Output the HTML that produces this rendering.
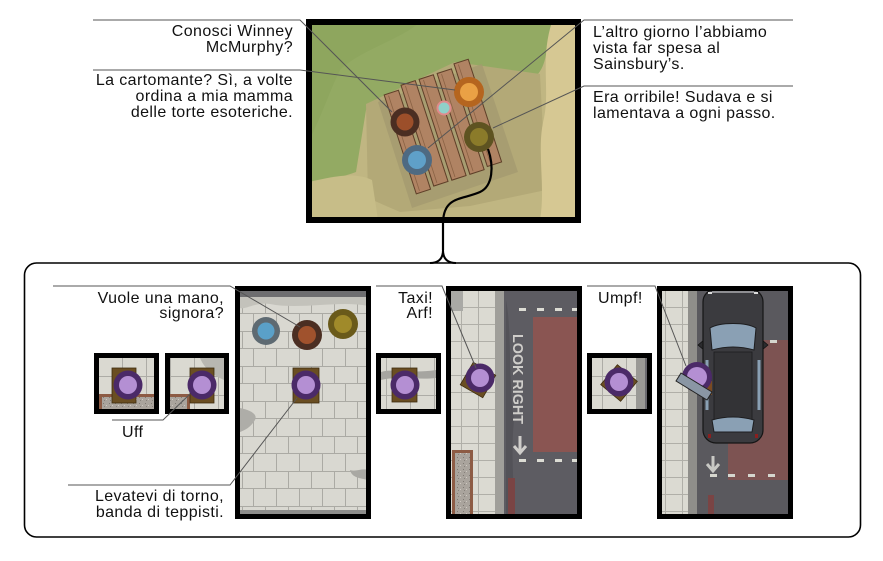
<!DOCTYPE html>
<html><head><meta charset="utf-8"><style>
html,body{margin:0;padding:0;background:#fff;}
svg{display:block;}
text{font-family:"Liberation Sans",sans-serif;font-size:16px;fill:#111;letter-spacing:0.4px;}
</style></head><body>
<svg width="883" height="561" viewBox="0 0 883 561" xmlns="http://www.w3.org/2000/svg">
<defs>
 <pattern id="brick" width="46" height="35" patternUnits="userSpaceOnUse" x="242" y="296">
  <rect width="46" height="35" fill="#d9d8d1"/>
  <path d="M0,0.5H46M0,17.5H46M0.5,0V17.5M23.5,0V17.5M11.5,17.5V35M34.5,17.5V35" stroke="#abaaa4" stroke-width="1" fill="none"/>
 </pattern>
 <pattern id="tile" width="17" height="17" patternUnits="userSpaceOnUse" x="444" y="290">
  <rect width="17" height="17" fill="#dbdad2"/>
  <path d="M0,0.5H17M0.5,0V17" stroke="#b0afa8" stroke-width="1" fill="none"/>
 </pattern>
 <pattern id="tile2" width="24" height="19" patternUnits="userSpaceOnUse" x="98" y="357">
  <rect width="24" height="19" fill="#dad9d1"/>
  <path d="M0,0.5H24M0.5,0V19" stroke="#adaca6" stroke-width="1" fill="none"/>
 </pattern>
 <pattern id="gravel" width="6" height="6" patternUnits="userSpaceOnUse">
  <rect width="6" height="6" fill="#aaa49d"/>
  <rect x="1" y="1" width="1" height="1" fill="#7e7872"/>
  <rect x="4" y="3" width="1" height="1" fill="#cfc9c2"/>
  <rect x="2" y="4" width="1" height="1" fill="#86807a"/>
 </pattern>
 <clipPath id="ct"><rect x="309" y="22" width="269" height="198"/></clipPath>
 <clipPath id="cA"><rect x="240" y="291" width="128" height="225"/></clipPath>
 <clipPath id="cB"><rect x="451" y="291" width="126" height="225"/></clipPath>
 <clipPath id="cC"><rect x="662" y="291" width="126" height="225"/></clipPath>
</defs>

<!-- ===== TOP IMAGE ===== -->
<g clip-path="url(#ct)">
 <rect x="309" y="22" width="269" height="198" fill="#c0b682"/>
 <path d="M309,22 H552 C546,45 548,62 538,74 L470,66 L400,92 L366,110 L356,172 C340,178 320,182 309,186 Z" fill="#93aa63"/>
 <path d="M309,22 H420 C400,40 360,50 340,70 C330,90 320,120 309,140 Z" fill="#8aa35c" opacity="0.6"/>
 <path d="M366,104 L455,62 L540,74 L546,190 L470,206 L400,212 L368,198 Z" fill="#b3a977"/>
 <path d="M378,102 L482,64 L518,172 L412,208 Z" fill="#a39a6f" opacity="0.75"/>
 <path d="M552,22 H578 V220 H540 C546,185 536,150 544,118 C550,90 540,58 552,22 Z" fill="#d6c893"/>
 <path d="M309,182 C335,176 355,172 372,180 L378,220 H309 Z" fill="#c7bd88"/>
 <g transform="rotate(-18 444 127)" stroke="#5e3f28" stroke-width="1" fill="#b08363">
  <rect x="397" y="78" width="15" height="104"/>
  <rect x="416" y="74" width="15" height="106"/>
  <rect x="435" y="74" width="15" height="106"/>
  <rect x="454" y="74" width="15" height="106"/>
  <rect x="473" y="70" width="15" height="108"/>
  <path d="M401,80V180M420,76V178M439,76V178M458,76V178M477,72V176" stroke="#8a6244" stroke-width="0.8"/>
 </g>
 <circle cx="405" cy="122" r="14.5" fill="#4b2e22"/><circle cx="405" cy="122" r="8.5" fill="#9c4f2a"/>
 <circle cx="444" cy="108" r="7.5" fill="#e08a8c"/><circle cx="444" cy="108" r="5.5" fill="#8fd0c8"/>
 <circle cx="469" cy="92" r="15" fill="#b5651f"/><circle cx="469" cy="92" r="9" fill="#eaa145"/>
 <circle cx="479" cy="137" r="15" fill="#5e5321"/><circle cx="479" cy="137" r="9" fill="#8b7b2a"/>
 <circle cx="417" cy="160" r="15" fill="#4e6a82"/><circle cx="417" cy="160" r="9" fill="#5fa0c8"/>
</g>
<rect x="309" y="22" width="269" height="198" fill="none" stroke="#000" stroke-width="6"/>

<!-- connector curve -->
<path d="M488,149 C494,166 493,186 480,192 C462,200 444,196 443,222 L443,250" fill="none" stroke="#000" stroke-width="2.2"/>
<path d="M430,263 Q443,263 443,250 Q443,263 456,263" fill="none" stroke="#000" stroke-width="2"/>

<!-- top label lines -->
<g stroke="#555" stroke-width="1" fill="none">
 <path d="M93,20 H300 L392,112"/>
 <path d="M93,70 H300 L455,90"/>
 <path d="M793,20 H584 L428,148"/>
 <path d="M793,86 H584 L493,128"/>
</g>
<text x="293" y="36" text-anchor="end">Conosci Winney</text>
<text x="293" y="52" text-anchor="end">McMurphy?</text>
<text x="293" y="85" text-anchor="end">La cartomante? Sì, a volte</text>
<text x="293" y="101" text-anchor="end">ordina a mia mamma</text>
<text x="293" y="117" text-anchor="end">delle torte esoteriche.</text>
<text x="593" y="37">L’altro giorno l’abbiamo</text>
<text x="593" y="53">vista far spesa al</text>
<text x="593" y="69">Sainsbury’s.</text>
<text x="593" y="102">Era orribile! Sudava e si</text>
<text x="593" y="118">lamentava a ogni passo.</text>

<!-- ===== BOTTOM PANEL ===== -->
<rect x="24.5" y="263" width="836" height="274" rx="12" ry="12" fill="none" stroke="#000" stroke-width="1.6"/>

<!-- small box 1 -->
<rect x="99" y="358" width="55" height="51" fill="url(#tile2)"/>
<rect x="99" y="394" width="55" height="15" fill="#8d5b44"/>
<rect x="102" y="397" width="52" height="12" fill="url(#gravel)"/>
<rect x="112" y="368" width="24" height="35" fill="#6a4e22" stroke="#3e2c10" stroke-width="0.8"/>
<circle cx="128" cy="385" r="14.5" fill="#4b2a68"/><circle cx="128" cy="385" r="9" fill="#b48fd3"/>
<rect x="96.5" y="355.5" width="60" height="56" fill="none" stroke="#000" stroke-width="5"/>

<!-- small box 2 -->
<rect x="170" y="358" width="54" height="51" fill="url(#tile2)"/>
<path d="M200,358 H224 V380 C215,376 205,370 200,358 Z" fill="#b8b7b1"/>
<rect x="170" y="394" width="20" height="15" fill="#8d5b44"/>
<rect x="170" y="397" width="17" height="12" fill="url(#gravel)"/>
<rect x="190" y="368" width="24" height="35" fill="#6a4e22" stroke="#3e2c10" stroke-width="0.8"/>
<circle cx="202" cy="385" r="14.5" fill="#4b2a68"/><circle cx="202" cy="385" r="9" fill="#b48fd3"/>
<rect x="167.5" y="355.5" width="59" height="56" fill="none" stroke="#000" stroke-width="5"/>

<!-- panel A -->
<g clip-path="url(#cA)">
 <rect x="240" y="291" width="128" height="225" fill="url(#brick)"/>
 <rect x="240" y="291" width="128" height="6" fill="#6e6e70"/>
 <path d="M240,297 H368 V306 C340,300 300,310 270,304 C255,302 245,310 240,308 Z" fill="#c3c2bb"/>
 <path d="M240,408 C250,410 258,414 255,420 C250,428 245,430 240,432 Z" fill="#aeada8"/>
 <path d="M350,470 C356,472 362,468 368,470 V480 C360,478 352,478 350,470 Z" fill="#a9a8a3"/>
 <rect x="240" y="510" width="128" height="6" fill="#8d8d8b"/>
 <rect x="293" y="368" width="26" height="35" fill="#6a4e22" stroke="#3e2c10" stroke-width="0.8"/>
 <circle cx="266" cy="331" r="14" fill="#5e6a72"/><circle cx="266" cy="331" r="8.5" fill="#5aa0c8"/>
 <circle cx="307" cy="335" r="15" fill="#4b2e22"/><circle cx="307" cy="335" r="9" fill="#a0522d"/>
 <circle cx="343" cy="324" r="15" fill="#6a5a1a"/><circle cx="343" cy="324" r="9" fill="#a08a2a"/>
 <circle cx="306" cy="385" r="14.5" fill="#4b2a68"/><circle cx="306" cy="385" r="9" fill="#b48fd3"/>
</g>
<rect x="237.5" y="288.5" width="131" height="228" fill="none" stroke="#000" stroke-width="5"/>

<!-- small box B -->
<rect x="381" y="358" width="55" height="51" fill="url(#tile2)"/>
<path d="M381,372 C395,368 410,374 436,370 V378 C420,380 395,376 381,380 Z" fill="#a6a5a0"/>
<rect x="392" y="368" width="25" height="34" fill="#6a4e22" stroke="#3e2c10" stroke-width="0.8"/>
<circle cx="405" cy="385" r="14.5" fill="#4b2a68"/><circle cx="405" cy="385" r="9" fill="#b48fd3"/>
<rect x="378.5" y="355.5" width="60" height="56" fill="none" stroke="#000" stroke-width="5"/>

<!-- panel B -->
<g clip-path="url(#cB)">
 <rect x="451" y="291" width="45" height="225" fill="url(#tile)"/>
 <rect x="451" y="291" width="12" height="20" fill="#a9a9a5"/>
 <rect x="495" y="291" width="9" height="225" fill="#a09f9a"/>
 <rect x="504" y="291" width="73" height="225" fill="#5d5c62"/>
 <rect x="533" y="317" width="44" height="135" fill="#8a5552"/>
 <path d="M506,300 C512,330 508,380 514,420 C510,460 516,490 512,516 H506 Z" fill="#535258"/>
 <g fill="#dcdcd4">
  <rect x="519" y="308" width="7" height="3"/><rect x="537" y="308" width="7" height="3"/><rect x="555" y="308" width="7" height="3"/><rect x="572" y="308" width="7" height="3"/>
  <rect x="519" y="459" width="7" height="3"/><rect x="537" y="459" width="7" height="3"/><rect x="555" y="459" width="7" height="3"/><rect x="572" y="459" width="7" height="3"/>
 </g>
 <text transform="translate(513,334) rotate(90)" style="font-size:14.5px;font-weight:bold;fill:#cfcdca;letter-spacing:0" textLength="90" lengthAdjust="spacingAndGlyphs">LOOK RIGHT</text>
 <path d="M520,436 V452 M514,446 L520,453 L526,446" stroke="#cfcdca" stroke-width="3" fill="none"/>
 <rect x="508" y="478" width="7" height="38" fill="#7a4444"/>
 <rect x="452" y="450" width="21" height="66" fill="#8d5b44"/>
 <rect x="455" y="453" width="15" height="63" fill="url(#gravel)"/>
 <g transform="rotate(30 478 380)"><rect x="465" y="367" width="26" height="26" fill="#6a4e22" stroke="#3e2c10" stroke-width="0.8"/></g>
 <circle cx="480" cy="378" r="14.5" fill="#4b2a68"/><circle cx="480" cy="378" r="9" fill="#b48fd3"/>
</g>
<rect x="448.5" y="288.5" width="131" height="228" fill="none" stroke="#000" stroke-width="5"/>

<!-- small box C -->
<rect x="592" y="358" width="55" height="51" fill="url(#tile2)"/>
<rect x="636" y="358" width="9" height="51" fill="#9a9995"/>
<rect x="645" y="358" width="2" height="51" fill="#6a696e"/>
<g transform="rotate(40 619 383)"><rect x="606" y="370" width="26" height="26" fill="#6a4e22" stroke="#3e2c10" stroke-width="0.8"/></g>
<circle cx="619" cy="382" r="14.5" fill="#4b2a68"/><circle cx="619" cy="382" r="9" fill="#b48fd3"/>
<rect x="589.5" y="355.5" width="60" height="56" fill="none" stroke="#000" stroke-width="5"/>

<!-- panel C -->
<g clip-path="url(#cC)">
 <rect x="662" y="291" width="27" height="225" fill="url(#tile)"/>
 <rect x="688" y="291" width="9" height="225" fill="#8f8e8a"/>
 <rect x="697" y="291" width="91" height="225" fill="#5a595e"/>
 <rect x="728" y="340" width="60" height="140" fill="#7d5352"/>
 <g fill="#d6d6ce">
  <rect x="710" y="474" width="7" height="3"/><rect x="728" y="474" width="7" height="3"/><rect x="748" y="474" width="7" height="3"/><rect x="768" y="474" width="7" height="3"/>
  <rect x="770" y="340" width="7" height="3"/>
 </g>
 <path d="M713,456 V470 M707,464 L713,471 L719,464" stroke="#c8c8c4" stroke-width="3" fill="none"/>
 <rect x="708" y="495" width="6" height="21" fill="#7a4444"/>
 <!-- car -->
 <path d="M698,345 L704,340 L704,350 Z M768,345 L762,340 L762,350 Z" fill="#2b2b2e" stroke="#111" stroke-width="0.8"/>
 <rect x="703" y="289" width="60" height="154" rx="13" ry="13" fill="#3b3b3f" stroke="#151515" stroke-width="1.2"/>
 <path d="M712,292 H754" stroke="#8e8e92" stroke-width="2"/>
 <rect x="708" y="292" width="4" height="2" fill="#ddd"/><rect x="754" y="292" width="4" height="2" fill="#ddd"/>
 <path d="M710,328 C720,322 746,322 756,328 L754,350 C740,346 726,346 712,350 Z" fill="#8aa0b4" stroke="#1d1d1f" stroke-width="1"/>
 <path d="M714,352 H752 V420 H714 Z" fill="#333336" stroke="#1d1d1f" stroke-width="0.8"/>
 <path d="M707,360 V410 M759,360 V410" stroke="#8aa0b4" stroke-width="3"/>
 <path d="M712,420 C726,416 740,416 754,420 L752,432 H714 Z" fill="#8aa0b4" stroke="#1d1d1f" stroke-width="1"/>
 <rect x="708" y="434" width="3" height="4" fill="#8a2020"/><rect x="755" y="434" width="3" height="4" fill="#8a2020"/>
 <!-- person + ramp -->
 <rect x="704" y="381" width="8" height="14" fill="#7a4a22"/>
 <circle cx="697" cy="377" r="15" fill="#4b2a68"/><circle cx="697" cy="377" r="10" fill="#b48fd3"/>
 <path d="M676,381 L681,373 L712,392 L707,400 Z" fill="#8a96a4" stroke="#222" stroke-width="1"/>
</g>
<rect x="659.5" y="288.5" width="131" height="228" fill="none" stroke="#000" stroke-width="5"/>

<!-- bottom label lines -->
<g stroke="#555" stroke-width="1" fill="none">
 <path d="M53,286 H230 L300,327"/>
 <path d="M112,420 H163 L190,394"/>
 <path d="M68,485 H230 L297,398"/>
 <path d="M376,286 H442 L476,368"/>
 <path d="M587,286 H655 L686,366"/>
</g>
<text x="224" y="303" text-anchor="end">Vuole una mano,</text>
<text x="224" y="318" text-anchor="end">signora?</text>
<text x="122" y="437">Uff</text>
<text x="224" y="501" text-anchor="end">Levatevi di torno,</text>
<text x="224" y="517" text-anchor="end">banda di teppisti.</text>
<text x="433" y="303" text-anchor="end">Taxi!</text>
<text x="433" y="318" text-anchor="end">Arf!</text>
<text x="598" y="303">Umpf!</text>
</svg>
</body></html>
